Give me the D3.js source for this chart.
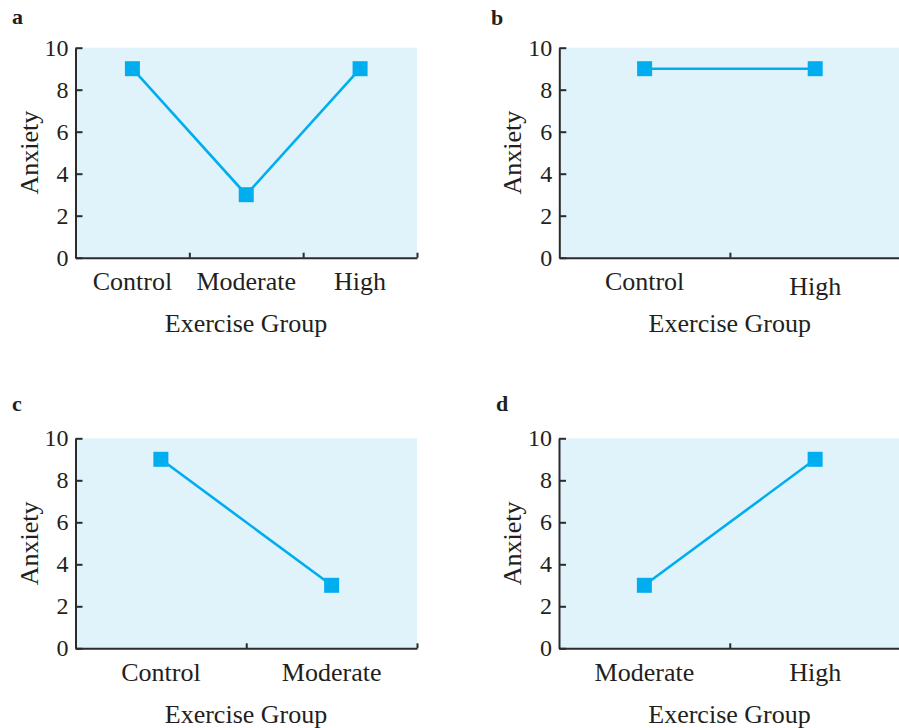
<!DOCTYPE html>
<html>
<head>
<meta charset="utf-8">
<script src="https://cdn.jsdelivr.net/npm/d3@7"></script>
<style>
  body { margin: 0; background: #fff; }
  svg text { font-family: "Liberation Serif", "Times New Roman", serif; fill: #231f20; }
</style>
</head>
<body>
<div id="chart"></div>
<script>
// data
const yTicks = [0, 2, 4, 6, 8, 10];

const groupsA = ["Control", "Moderate", "High"];
const anxietyA = [9, 3, 9];

const groupsB = ["Control", "High"];
const anxietyB = [9, 9];

const groupsC = ["Control", "Moderate"];
const anxietyC = [9, 3];

const groupsD = ["Moderate", "High"];
const anxietyD = [3, 9];

const width = 899, height = 728;
const blue = "#00aeef";
const axisColor = "#2b2b2b";

// panel boxes (plot area) and letter positions
const panels = [
  { id: "a", groups: groupsA, values: anxietyA, left: 75.5, right: 417, top: 47.7, bottom: 257.7, lx: 12, ly: 24, highDrop: 0 },
  { id: "b", groups: groupsB, values: anxietyB, left: 559.3, right: 900.5, top: 47.7, bottom: 257.7, lx: 491, ly: 25, highDrop: 5 },
  { id: "c", groups: groupsC, values: anxietyC, left: 75.5, right: 417, top: 438.3, bottom: 648.3, lx: 12, ly: 411, highDrop: 0 },
  { id: "d", groups: groupsD, values: anxietyD, left: 559, right: 900.5, top: 438.3, bottom: 648.3, lx: 496, ly: 411, highDrop: 0 }
];

const svg = d3.select("#chart").append("svg")
    .attr("width", width)
    .attr("height", height)
    .attr("viewBox", `0 0 ${width} ${height}`);

panels.forEach(p => {
  const g = svg.append("g").attr("class", "panel-" + p.id);

  const x = d3.scaleBand()
      .domain(p.groups)
      .range([p.left, p.right])
      .padding(0);

  // same range, used only for the tick marks between groups
  const xEdges = d3.scaleLinear()
      .domain([0, p.groups.length])
      .range([p.left, p.right]);

  const y = d3.scaleLinear()
      .domain([0, 10])
      .range([p.bottom, p.top]);

  g.append("rect")
      .attr("x", p.left)
      .attr("y", y(10))
      .attr("width", p.right - p.left)
      .attr("height", y(0) - y(10))
      .attr("fill", "#e0f2fa");

  // x axis line + upward ticks at group boundaries
  g.append("g")
      .attr("transform", `translate(0,${y(0)})`)
      .call(d3.axisTop(xEdges).tickValues(d3.range(1, p.groups.length + 1)).tickSize(5).tickSizeOuter(0).tickFormat(""))
      .call(a => a.selectAll("path, line").attr("stroke", axisColor).attr("stroke-width", 2));

  // group labels
  g.append("g")
      .attr("transform", `translate(0,${y(0)})`)
      .call(d3.axisBottom(x).tickSize(0))
      .call(a => a.select(".domain").remove())
      .call(a => a.selectAll("text")
          .attr("y", 32.5)
          .attr("dy", null)
          .attr("font-size", 26)
          .attr("fill", "#231f20")
          .attr("transform", d => d === "High" && p.highDrop ? `translate(0,${p.highDrop})` : null));

  // y axis, inward ticks
  g.append("g")
      .attr("transform", `translate(${p.left},0)`)
      .call(d3.axisLeft(y).tickValues(yTicks).tickSizeInner(-7).tickSizeOuter(0).tickPadding(7))
      .call(a => a.selectAll("path, line").attr("stroke", axisColor).attr("stroke-width", 2))
      .call(a => a.selectAll("text").attr("font-size", 24).attr("fill", "#231f20"));

  // axis titles
  g.append("text")
      .attr("transform", `translate(${p.left - 38},${(y(0) + y(10)) / 2}) rotate(-90)`)
      .attr("text-anchor", "middle")
      .attr("font-size", 26)
      .text("Anxiety");

  g.append("text")
      .attr("x", (p.left + Math.min(p.right, p.left + 341)) / 2)
      .attr("y", y(0) + 74.5)
      .attr("text-anchor", "middle")
      .attr("font-size", 26)
      .text("Exercise Group");

  g.append("text")
      .attr("x", p.lx)
      .attr("y", p.ly)
      .attr("font-size", 22)
      .attr("font-weight", "bold")
      .text(p.id);

  const pts = p.groups.map((c, i) => ({ group: c, value: p.values[i] }));

  const line = d3.line()
      .x(d => x(d.group) + x.bandwidth() / 2)
      .y(d => y(d.value));

  g.append("path")
      .datum(pts)
      .attr("fill", "none")
      .attr("stroke", blue)
      .attr("stroke-width", 2.6)
      .attr("d", line);

  g.selectAll("rect.marker")
      .data(pts)
      .join("rect")
      .attr("class", "marker")
      .attr("x", d => x(d.group) + x.bandwidth() / 2 - 7.5)
      .attr("y", d => y(d.value) - 7.5)
      .attr("width", 15)
      .attr("height", 15)
      .attr("fill", blue);
});
</script>
</body>
</html>
